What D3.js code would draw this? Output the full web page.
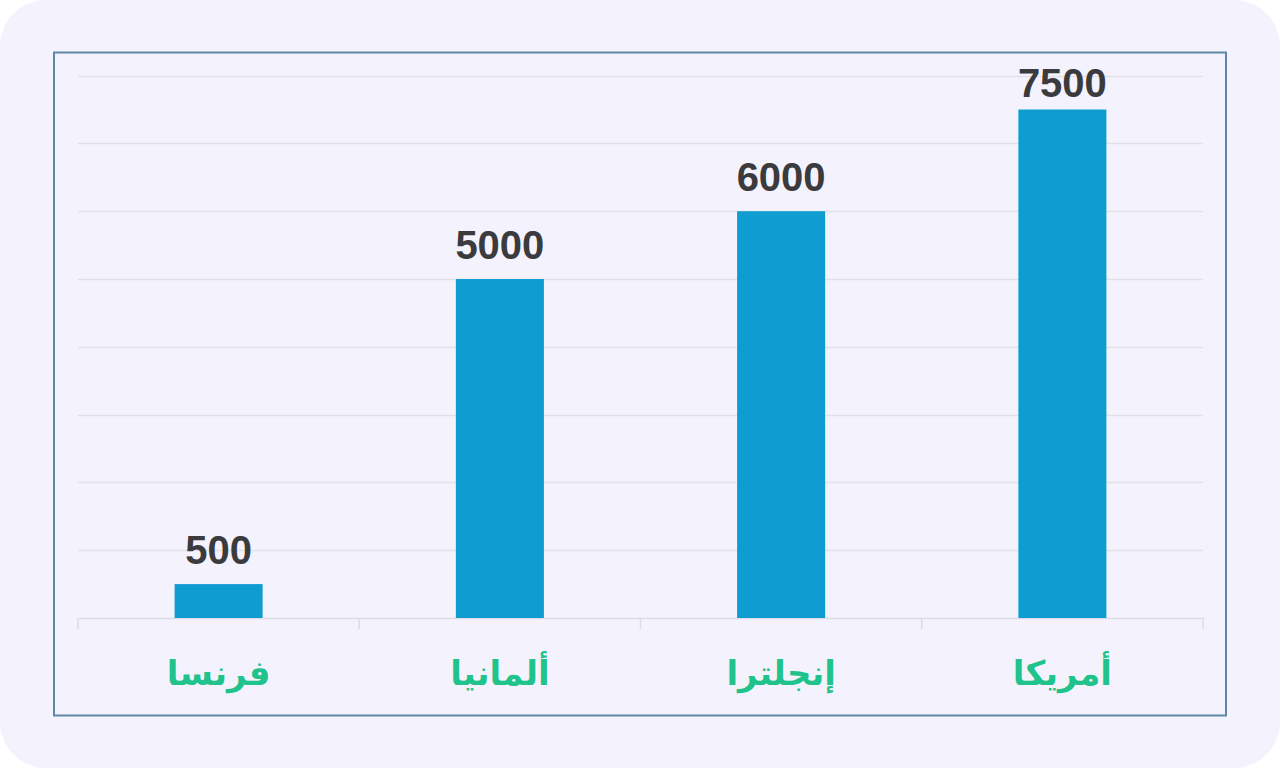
<!DOCTYPE html>
<html><head><meta charset="utf-8">
<script src="https://cdn.jsdelivr.net/npm/d3@7"></script>
<style>html,body{margin:0;padding:0;background:#ffffff;}svg{display:block;}</style>
</head><body>
<svg id="c" width="1280" height="768"></svg>
<script>
const categories = ["فرنسا", "ألمانيا", "إنجلترا", "أمريكا"];
const values = [500, 5000, 6000, 7500];
const yTicks = [0, 1000, 2000, 3000, 4000, 5000, 6000, 7000, 8000];

(function(){
const svg = d3.select("#c");
svg.append("rect").attr("x",0).attr("y",0).attr("width",1280).attr("height",768)
  .attr("rx",46).attr("fill","#f4f3fd");
svg.append("rect").attr("x",54).attr("y",52.5).attr("width",1172).attr("height",663)
  .attr("fill","#f4f3fd").attr("stroke","#5e87a6").attr("stroke-width",2);

const pl=78, pr=1203, pt=75.6, pb=618;
const x = d3.scaleBand().domain(categories).range([pl,pr]).padding(0);
const y = d3.scaleLinear().domain([0,8000]).range([pb,pt]);

const g = svg.append("g");
g.selectAll("line.grid").data(yTicks.slice(1)).join("line")
  .attr("x1",pl).attr("x2",pr)
  .attr("y1",d=>Math.round(y(d))+0.5).attr("y2",d=>Math.round(y(d))+0.5)
  .attr("stroke","#e2e1ea").attr("stroke-width",1.5);

const xAxis = g.append("g").attr("transform",`translate(0,${pb})`)
  .call(d3.axisBottom(x).tickValues([]).tickSizeOuter(0));
xAxis.select(".domain").attr("stroke","#dddce5").attr("stroke-width",1.5);
const bounds = categories.map(c=>x(c)).concat([pr]);
g.selectAll("line.tk").data(bounds).join("line")
  .attr("x1",d=>d).attr("x2",d=>d).attr("y1",pb).attr("y2",pb+11)
  .attr("stroke","#dddce5").attr("stroke-width",1.5);

const bw = x.bandwidth()*0.313;
g.selectAll("rect.bar").data(values).join("rect")
  .attr("x",(d,i)=>x(categories[i])+x.bandwidth()/2-bw/2)
  .attr("y",d=>y(d)).attr("width",bw).attr("height",d=>pb-y(d))
  .attr("fill","#0f9dd1");

g.selectAll("text.val").data(values).join("text")
  .attr("x",(d,i)=>x(categories[i])+x.bandwidth()/2)
  .attr("y",d=>Math.max(y(d)-20, 97))
  .attr("text-anchor","middle")
  .attr("font-family","'Liberation Sans', Arial, sans-serif")
  .attr("font-weight","bold").attr("font-size",40)
  .attr("fill","#3b3b3e")
  .text(d=>d);

g.selectAll("text.cat").data(categories).join("text")
  .attr("x",d=>x(d)+x.bandwidth()/2)
  .attr("y",685)
  .attr("text-anchor","middle")
  .attr("direction","rtl")
  .attr("font-family","'DejaVu Sans', sans-serif")
  .attr("font-weight","bold").attr("font-size",34)
  .attr("fill","#1fc38b")
  .text(d=>d);
})();
</script>
</body></html>
